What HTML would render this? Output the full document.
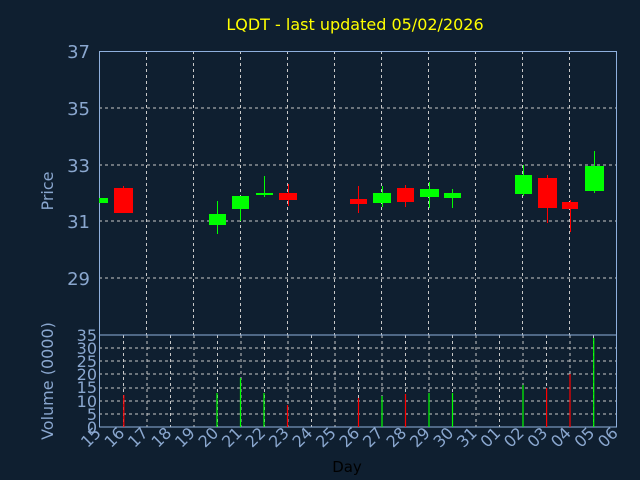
<!DOCTYPE html>
<html><head><style>body{margin:0;background:#0f1f30}svg{display:block}</style></head><body>
<svg width="640" height="480" xmlns="http://www.w3.org/2000/svg" font-family="DejaVu Sans, Liberation Sans, sans-serif">
<rect width="640" height="480" fill="#0f1f30"/>
<text x="355" y="30" fill="#ffff00" font-size="16" text-anchor="middle">LQDT - last updated 05/02/2026</text>
<g stroke="#c8c8c8" stroke-width="1" stroke-dasharray="3,3">
<line x1="99" x2="617" y1="108" y2="108"/><line x1="99" x2="617" y1="165" y2="165"/><line x1="99" x2="617" y1="221" y2="221"/><line x1="99" x2="617" y1="278" y2="278"/>
<line x1="146.5" x2="146.5" y1="51" y2="335"/><line x1="193.5" x2="193.5" y1="51" y2="335"/><line x1="240.5" x2="240.5" y1="51" y2="335"/><line x1="287.5" x2="287.5" y1="51" y2="335"/><line x1="334.5" x2="334.5" y1="51" y2="335"/><line x1="381.5" x2="381.5" y1="51" y2="335"/><line x1="428.5" x2="428.5" y1="51" y2="335"/><line x1="475.5" x2="475.5" y1="51" y2="335"/><line x1="522.5" x2="522.5" y1="51" y2="335"/><line x1="569.5" x2="569.5" y1="51" y2="335"/>
<line x1="99" x2="617" y1="348" y2="348"/><line x1="99" x2="617" y1="361" y2="361"/><line x1="99" x2="617" y1="374" y2="374"/><line x1="99" x2="617" y1="388" y2="388"/><line x1="99" x2="617" y1="401" y2="401"/><line x1="99" x2="617" y1="414" y2="414"/>
</g>
<g stroke="#c8c8c8" stroke-width="1" stroke-dasharray="3,3" id="vg"></g>
<g stroke="#8fb0dd" fill="none">
<rect x="99.5" y="51.5" width="517" height="283.5"/>
<rect x="99.5" y="335" width="517" height="92"/>
</g>
<g fill="#00ff00" stroke="#00ff00">
<rect x="99" y="198" width="9" height="5" stroke="none"/>
<line x1="217.5" x2="217.5" y1="201" y2="234"/><rect x="209" y="214" width="17" height="11" stroke="none"/>
<line x1="240.5" x2="240.5" y1="196" y2="221"/><rect x="232" y="196" width="17" height="13" stroke="none"/>
<line x1="264.5" x2="264.5" y1="176" y2="197"/><rect x="256" y="193" width="17" height="2" stroke="none"/>
<line x1="382.5" x2="382.5" y1="186" y2="207"/><rect x="373" y="193" width="18" height="10" stroke="none"/>
<line x1="429.5" x2="429.5" y1="182" y2="208"/><rect x="420" y="189" width="19" height="8" stroke="none"/>
<line x1="452.5" x2="452.5" y1="189" y2="208"/><rect x="444" y="193" width="17" height="5" stroke="none"/>
<line x1="523.5" x2="523.5" y1="165" y2="196"/><rect x="515" y="175" width="17" height="19" stroke="none"/>
<line x1="594.5" x2="594.5" y1="151" y2="193"/><rect x="585" y="166" width="19" height="25" stroke="none"/>
</g>
<g fill="#ff0000" stroke="#ff0000">
<line x1="123.5" x2="123.5" y1="186" y2="213"/><rect x="114" y="188" width="19" height="25" stroke="none"/>
<line x1="288.5" x2="288.5" y1="184" y2="206"/><rect x="279" y="193" width="18" height="7" stroke="none"/>
<line x1="358.5" x2="358.5" y1="186" y2="213"/><rect x="350" y="199" width="17" height="5" stroke="none"/>
<line x1="405.5" x2="405.5" y1="185" y2="207"/><rect x="397" y="188" width="17" height="14" stroke="none"/>
<line x1="547.5" x2="547.5" y1="175" y2="223"/><rect x="538" y="178" width="19" height="30" stroke="none"/>
<line x1="570.5" x2="570.5" y1="200" y2="232"/><rect x="562" y="202" width="16" height="7" stroke="none"/>
</g>
<g stroke="#ff0000" stroke-width="1.2">
<line x1="123.8" x2="123.8" y1="395" y2="427"/><line x1="287.5" x2="287.5" y1="405" y2="427"/><line x1="358.5" x2="358.5" y1="398" y2="427"/><line x1="405.5" x2="405.5" y1="394" y2="427"/><line x1="546.6" x2="546.6" y1="388" y2="427"/><line x1="570" x2="570" y1="374" y2="427"/>
</g>
<g stroke="#00ff00" stroke-width="1.2">
<line x1="217" x2="217" y1="393" y2="427"/><line x1="240.5" x2="240.5" y1="378" y2="427"/><line x1="264" x2="264" y1="393" y2="427"/><line x1="382" x2="382" y1="396" y2="427"/><line x1="429" x2="429" y1="393" y2="427"/><line x1="452.5" x2="452.5" y1="393" y2="427"/><line x1="523" x2="523" y1="385" y2="427"/><line x1="593.7" x2="593.7" y1="338" y2="427"/>
</g>
<g fill="#8aa7cf" font-size="18" text-anchor="end">
<text x="90" y="58">37</text><text x="90" y="115">35</text><text x="90" y="172">33</text><text x="90" y="228">31</text><text x="90" y="285">29</text>
</g>
<g fill="#8aa7cf" font-size="16" text-anchor="end">
<text x="97" y="341">35</text><text x="97" y="354">30</text><text x="97" y="367">25</text><text x="97" y="380">20</text><text x="97" y="393">15</text><text x="97" y="407">10</text><text x="97" y="420">5</text><text x="97" y="433">0</text>
</g>
<text transform="translate(53,191) rotate(-90)" fill="#8aa7cf" font-size="16" text-anchor="middle">Price</text>
<text transform="translate(53,381) rotate(-90)" fill="#8aa7cf" font-size="16" text-anchor="middle">Volume (0000)</text>
<g fill="#8aa7cf" font-size="16" text-anchor="end" id="dl"></g>
<text x="347" y="472" fill="#000" font-size="15" text-anchor="middle">Day</text>
<script>
var vg=document.getElementById('vg'),dl=document.getElementById('dl'),ns='http://www.w3.org/2000/svg';
var labs=['15','16','17','18','19','20','21','22','23','24','25','26','27','28','29','30','31','01','02','03','04','05','06'];
for(var i=0;i<23;i++){var x=100+i*23.5;
 if(i>0&&i<22){var l=document.createElementNS(ns,'line');l.setAttribute('x1',x);l.setAttribute('x2',x);l.setAttribute('y1',335);l.setAttribute('y2',427);vg.appendChild(l);}
 var t=document.createElementNS(ns,'text');t.setAttribute('transform','translate('+(x+2)+',434) rotate(-45)');t.textContent=labs[i];dl.appendChild(t);}
</script>
</svg>
</body></html>
